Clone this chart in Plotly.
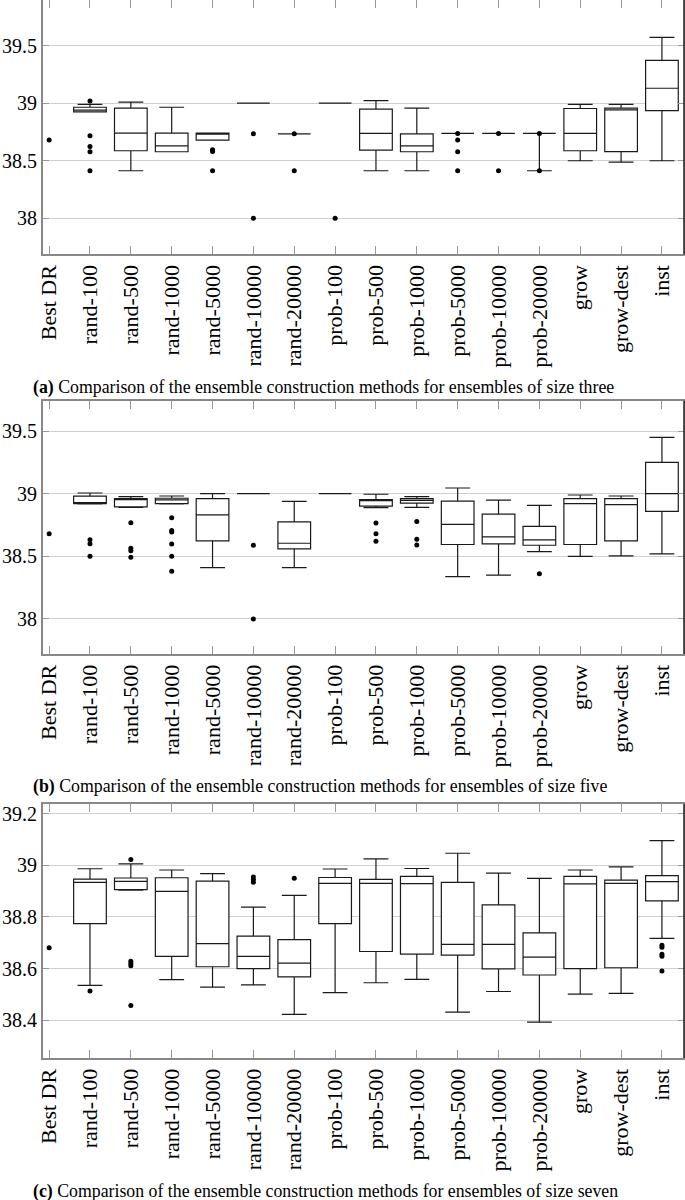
import plotly.graph_objects as go

categories = ['Best DR', 'rand-100', 'rand-500', 'rand-1000', 'rand-5000', 'rand-10000',
              'rand-20000', 'prob-100', 'prob-500', 'prob-1000', 'prob-5000', 'prob-10000',
              'prob-20000', 'grow', 'grow-dest', 'inst']
box_cats = categories[1:]

# ---- Panel (a): ensembles of size three ----
a_lower = [38.925, 38.413, 38.578, 38.68, 39.0, 38.734, 39.0, 38.413, 38.413, 38.737, 38.737, 38.413, 38.5, 38.488, 38.5]
a_q1 = [38.925, 38.587, 38.578, 38.68, 39.0, 38.734, 39.0, 38.592, 38.578, 38.737, 38.737, 38.737, 38.587, 38.58, 38.936]
a_med = [38.94, 38.74, 38.63, 38.735, 39.0, 38.734, 39.0, 38.737, 38.63, 38.737, 38.737, 38.737, 38.737, 38.942, 39.13]
a_q3 = [38.965, 38.957, 38.74, 38.74, 39.0, 38.734, 39.0, 38.948, 38.734, 38.737, 38.737, 38.737, 38.954, 38.957, 39.373]
a_upper = [38.99, 39.01, 38.965, 38.74, 39.0, 38.734, 39.0, 39.023, 38.957, 38.737, 38.737, 38.737, 38.99, 38.99, 39.572]
a_out_cat = ['Best DR', 'rand-100', 'rand-100', 'rand-100', 'rand-100', 'rand-100',
             'rand-5000', 'rand-5000', 'rand-5000', 'rand-10000', 'rand-10000',
             'rand-20000', 'rand-20000', 'prob-100', 'prob-5000', 'prob-5000', 'prob-5000',
             'prob-5000', 'prob-10000', 'prob-10000', 'prob-20000', 'prob-20000']
a_out_val = [38.68, 39.02, 38.717, 38.624, 38.578, 38.413,
             38.595, 38.58, 38.413, 38.734, 38.0,
             38.734, 38.413, 38.0, 38.737, 38.68, 38.578,
             38.413, 38.737, 38.413, 38.737, 38.413]

# ---- Panel (b): ensembles of size five ----
b_lower = [38.918, 38.89, 38.918, 38.409, 39.0, 38.409, 39.0, 38.888, 38.89, 38.337, 38.35, 38.537, 38.5, 38.503, 38.519]
b_q1 = [38.92, 38.895, 38.92, 38.623, 39.0, 38.559, 39.0, 38.901, 38.925, 38.594, 38.599, 38.588, 38.594, 38.623, 38.858]
b_med = [38.925, 38.953, 38.95, 38.83, 39.0, 38.604, 39.0, 38.947, 38.947, 38.754, 38.655, 38.631, 38.92, 38.912, 39.0]
b_q3 = [38.98, 38.96, 38.963, 38.96, 39.0, 38.775, 39.0, 38.952, 38.96, 38.941, 38.837, 38.738, 38.96, 38.96, 39.249]
b_upper = [39.005, 38.976, 38.981, 39.0, 39.0, 38.938, 39.0, 38.995, 38.976, 39.045, 38.949, 38.906, 38.989, 38.981, 39.449]
b_out_cat = ['Best DR', 'rand-100', 'rand-100', 'rand-100',
             'rand-500', 'rand-500', 'rand-500', 'rand-500',
             'rand-1000', 'rand-1000', 'rand-1000', 'rand-1000', 'rand-1000', 'rand-1000',
             'rand-10000', 'rand-10000', 'prob-500', 'prob-500', 'prob-500',
             'prob-1000', 'prob-1000', 'prob-1000', 'prob-20000']
b_out_val = [38.68, 38.631, 38.6, 38.5,
             38.767, 38.564, 38.545, 38.492,
             38.807, 38.706, 38.693, 38.599, 38.5, 38.38,
             38.588, 38.0, 38.765, 38.68, 38.62,
             38.778, 38.636, 38.591, 38.361]

# ---- Panel (c): ensembles of size seven ----
c_lower = [38.535, 38.904, 38.557, 38.528, 38.537, 38.422, 38.507, 38.545, 38.558, 38.431, 38.511, 38.392, 38.501, 38.504, 38.717]
c_q1 = [38.774, 38.906, 38.647, 38.607, 38.6, 38.568, 38.774, 38.666, 38.656, 38.652, 38.599, 38.575, 38.6, 38.603, 38.862]
c_med = [38.934, 38.938, 38.899, 38.697, 38.647, 38.621, 38.93, 38.93, 38.929, 38.694, 38.694, 38.644, 38.928, 38.93, 38.937]
c_q3 = [38.947, 38.951, 38.952, 38.939, 38.726, 38.712, 38.953, 38.946, 38.957, 38.934, 38.847, 38.738, 38.957, 38.943, 38.96]
c_upper = [38.987, 39.006, 38.982, 38.968, 38.838, 38.884, 38.986, 39.025, 38.988, 39.047, 38.97, 38.95, 38.982, 38.994, 39.096]
c_out_cat = ['Best DR', 'rand-100',
             'rand-500', 'rand-500', 'rand-500', 'rand-500', 'rand-500',
             'rand-10000', 'rand-10000', 'rand-10000', 'rand-20000',
             'inst', 'inst', 'inst', 'inst', 'inst']
c_out_val = [38.681, 38.513,
             39.023, 38.628, 38.62, 38.611, 38.457,
             38.955, 38.945, 38.935, 38.95,
             38.69, 38.683, 38.655, 38.648, 38.59]

ab_tickvals = [38, 38.5, 39, 39.5]
ab_ticktext = ['38', '38.5', '39', '39.5']
c_tickvals = [38.4, 38.6, 38.8, 39.0, 39.2]
c_ticktext = ['38.4', '38.6', '38.8', '39', '39.2']

captions = [
    '<b>(a)</b> Comparison of the ensemble construction methods for ensembles of size three',
    '<b>(b)</b> Comparison of the ensemble construction methods for ensembles of size five',
    '<b>(c)</b> Comparison of the ensemble construction methods for ensembles of size seven',
]

FONT = 'Liberation Serif'
panels = [
    (a_lower, a_q1, a_med, a_q3, a_upper, a_out_cat, a_out_val, [37.687, 39.897], ab_tickvals, ab_ticktext, [0.7881, 1.0], 0.6775),
    (b_lower, b_q1, b_med, b_q3, b_upper, b_out_cat, b_out_val, [37.72, 39.742], ab_tickvals, ab_ticktext, [0.455, 0.6661], 0.3442),
    (c_lower, c_q1, c_med, c_q3, c_upper, c_out_cat, c_out_val, [38.253, 39.238], c_tickvals, c_ticktext, [0.1183, 0.33], 0.0075),
]

fig = go.Figure()
layout = dict()
shapes = []
annotations = []
for i, (lo, q1, med, q3, up, oc, ov, yr, tv, tt, dom, capy) in enumerate(panels):
    n = '' if i == 0 else str(i + 1)
    xa, ya = 'x' + n, 'y' + n
    fig.add_trace(go.Box(
        x=box_cats, lowerfence=lo, q1=q1, median=med, q3=q3, upperfence=up,
        xaxis=xa, yaxis=ya, boxpoints=False, width=0.8, whiskerwidth=0.76,
        fillcolor='white', line=dict(color='#1a1a1a', width=1.2), showlegend=False,
        hoverinfo='skip'))
    fig.add_trace(go.Scatter(
        x=oc, y=ov, xaxis=xa, yaxis=ya, mode='markers',
        marker=dict(color='black', size=5), showlegend=False, hoverinfo='skip'))
    layout['xaxis' + n] = dict(
        domain=[0, 1], anchor=ya, type='category', categoryorder='array',
        categoryarray=categories, range=[-0.15, 15.54], tickmode='array',
        tickvals=categories, ticktext=categories, tickangle=-90,
        ticks='inside', ticklen=8, tickcolor='#999', tickwidth=1,
        showline=True, linecolor='#888', linewidth=2, mirror='ticks',
        showgrid=False, zeroline=False, fixedrange=True,
        tickfont=dict(family=FONT, size=22, color='black'))
    layout['yaxis' + n] = dict(
        domain=dom, anchor=xa, range=yr, tickmode='array', tickvals=tv, ticktext=tt,
        ticks='inside', ticklen=6, tickcolor='#999', tickwidth=1,
        showline=True, linecolor='#888', linewidth=2, mirror='ticks',
        showgrid=True, gridcolor='#d0d0d0', gridwidth=1, zeroline=False,
        tickfont=dict(family=FONT, size=20, color='black'))
    shapes.append(dict(type='line', xref=xa + ' domain', yref=ya + ' domain',
                       x0=1, x1=1, y0=0, y1=1, line=dict(color='#222', width=1.5)))
    annotations.append(dict(text=captions[i], xref='paper', yref='paper', x=-0.0187, y=capy,
                            xanchor='left', yanchor='middle', showarrow=False,
                            font=dict(family=FONT, size=17.8, color='black')))

fig.update_layout(**layout)
fig.update_layout(
    width=685, height=1200, margin=dict(l=43, r=1, t=0, b=0, autoexpand=False),
    paper_bgcolor='white', plot_bgcolor='white', shapes=shapes, annotations=annotations,
    font=dict(family=FONT, color='black'))

fig.write_html('out.html', config={'displayModeBar': False},
               post_script="document.body.style.margin='0';")
